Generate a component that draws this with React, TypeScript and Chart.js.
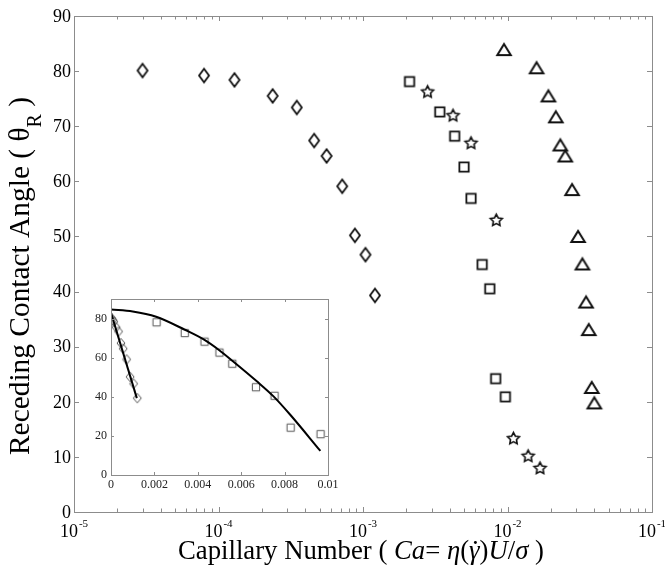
import React, { useEffect, useRef } from 'react';
import { Chart, registerables } from 'chart.js';

Chart.register(...registerables);

const FONT = '"Liberation Serif", "Times New Roman", serif';

// ---- main chart data (Ca, receding angle) ----
const diamondCa = [2.98e-5, 7.94e-5, 1.29e-4, 2.37e-4, 3.48e-4, 4.59e-4, 5.6e-4, 7.18e-4, 8.79e-4, 1.04e-3, 1.21e-3];
const diamondTheta = [80.1, 79.2, 78.4, 75.5, 73.4, 67.4, 64.6, 59.1, 50.2, 46.7, 39.3];
const squareCa = [2.1e-3, 3.4e-3, 4.31e-3, 5.0e-3, 5.59e-3, 6.68e-3, 7.54e-3, 8.28e-3, 9.66e-3];
const squareTheta = [78.1, 72.6, 68.2, 62.6, 56.9, 44.9, 40.5, 24.2, 20.9];
const starCa = [2.8e-3, 4.2e-3, 5.59e-3, 8.36e-3, 1.1e-2, 1.39e-2, 1.68e-2];
const starTheta = [76.3, 72.0, 67.0, 53.0, 13.4, 10.2, 8.0];
const triangleCa = [9.46e-3, 1.59e-2, 1.92e-2, 2.16e-2, 2.32e-2, 2.51e-2, 2.8e-2, 3.08e-2, 3.3e-2, 3.5e-2, 3.65e-2, 3.83e-2, 3.99e-2];
const triangleTheta = [83.9, 80.6, 75.5, 71.7, 66.6, 64.6, 58.5, 50.0, 45.0, 38.1, 33.1, 22.6, 19.8];

// ---- inset fit curves (linear axes) ----
const diamondFitCa = [0, 0.00119];
const diamondFitTheta = [82.9, 39.3];
const squareFitCa = [0, 0.001, 0.00208, 0.00338, 0.00429, 0.00499, 0.00557, 0.00672, 0.00749, 0.00826, 0.00965];
const squareFitTheta = [84.6, 83.6, 80.9, 74.4, 69.2, 63.8, 58.6, 47.9, 40.2, 30.8, 12.3];

// ---- ticks ----
const mainYTicks = [0, 10, 20, 30, 40, 50, 60, 70, 80, 90];
const mainXDecades = [-5, -4, -3, -2, -1];
const insetXTicks = [0, 0.002, 0.004, 0.006, 0.008, 0.01];
const insetXTickLabels = ['0', '0.002', '0.004', '0.006', '0.008', '0.01'];
const insetYTicks = [0, 20, 40, 60, 80];

const pts = (xs: number[], ys: number[]) => xs.map((x, i) => ({ x, y: ys[i] }));

function marker(shape: string, w: number, h: number, lw: number, color: string) {
  const c = document.createElement('canvas');
  const pad = Math.ceil(lw) + 2;
  c.width = Math.ceil(w) + pad * 2;
  c.height = Math.ceil(h) + pad * 2;
  const g = c.getContext('2d')!;
  g.strokeStyle = color;
  g.lineWidth = lw;
  g.lineJoin = 'miter';
  const cx = c.width / 2;
  const cy = c.height / 2;
  g.beginPath();
  if (shape === 'diamond') {
    g.moveTo(cx, cy - h / 2);
    g.lineTo(cx + w / 2, cy);
    g.lineTo(cx, cy + h / 2);
    g.lineTo(cx - w / 2, cy);
    g.closePath();
  } else if (shape === 'square') {
    g.rect(cx - w / 2, cy - h / 2, w, h);
  } else if (shape === 'triangle') {
    g.moveTo(cx, cy - h / 2);
    g.lineTo(cx + w / 2, cy + h / 2);
    g.lineTo(cx - w / 2, cy + h / 2);
    g.closePath();
  } else if (shape === 'star') {
    const R = w / 2;
    const r = R * 0.5;
    for (let i = 0; i < 10; i++) {
      const a = -Math.PI / 2 + (i * Math.PI) / 5;
      const rr = i % 2 === 0 ? R : r;
      const px = cx + rr * Math.cos(a);
      const py = cy + 0.5 + rr * Math.sin(a);
      if (i === 0) g.moveTo(px, py);
      else g.lineTo(px, py);
    }
    g.closePath();
  }
  g.stroke();
  return c;
}

// draws text segments centred on the origin, scaled uniformly to a target length
function drawSegments(
  ctx: CanvasRenderingContext2D,
  segs: { t: string; it?: boolean; size: number; dy?: number; dot?: boolean }[],
  target: number
) {
  let total = 0;
  const widths: number[] = [];
  for (const s of segs) {
    ctx.font = `${s.it ? 'italic ' : ''}${s.size}px ${FONT}`;
    const w = ctx.measureText(s.t).width;
    widths.push(w);
    total += w;
  }
  const sc = target / total;
  ctx.scale(sc, sc);
  let x = -total / 2;
  segs.forEach((s, i) => {
    ctx.font = `${s.it ? 'italic ' : ''}${s.size}px ${FONT}`;
    ctx.fillText(s.t, x, s.dy || 0);
    if (s.dot) {
      ctx.beginPath();
      ctx.arc(x + widths[i] * 0.6, -s.size * 0.62, 1.2, 0, Math.PI * 2);
      ctx.fill();
    }
    x += widths[i];
  });
}

const AXIS_GRAY = '#8c8c8c';

const mainDecor = {
  id: 'mainDecor',
  afterDraw(chart: any) {
    const ctx: CanvasRenderingContext2D = chart.ctx;
    const { left, right, top, bottom } = chart.chartArea;
    const xs = chart.scales.x;
    const ys = chart.scales.y;
    ctx.save();
    ctx.strokeStyle = AXIS_GRAY;
    ctx.lineWidth = 1;
    ctx.strokeRect(Math.round(left) + 0.5, Math.round(top) + 0.5, Math.round(right - left), Math.round(bottom - top));
    ctx.beginPath();
    for (const v of mainYTicks) {
      const py = Math.round(ys.getPixelForValue(v)) + 0.5;
      ctx.moveTo(left, py); ctx.lineTo(left + 5, py);
      ctx.moveTo(right, py); ctx.lineTo(right - 5, py);
    }
    for (const d of mainXDecades) {
      const px = Math.round(xs.getPixelForValue(Math.pow(10, d))) + 0.5;
      ctx.moveTo(px, bottom); ctx.lineTo(px, bottom - 5);
      ctx.moveTo(px, top); ctx.lineTo(px, top + 5);
      if (d < -1) {
        for (let m = 2; m <= 9; m++) {
          const mx = Math.round(xs.getPixelForValue(m * Math.pow(10, d))) + 0.5;
          ctx.moveTo(mx, bottom); ctx.lineTo(mx, bottom - 3.5);
          ctx.moveTo(mx, top); ctx.lineTo(mx, top + 3.5);
        }
      }
    }
    ctx.stroke();

    ctx.fillStyle = '#000';
    ctx.font = `18px ${FONT}`;
    ctx.textAlign = 'right';
    ctx.textBaseline = 'middle';
    for (const v of mainYTicks) {
      ctx.fillText(String(v), left - 3, ys.getPixelForValue(v) + 1);
    }
    ctx.textAlign = 'left';
    ctx.textBaseline = 'alphabetic';
    for (const d of mainXDecades) {
      const px = xs.getPixelForValue(Math.pow(10, d));
      ctx.font = `18px ${FONT}`;
      const w1 = ctx.measureText('10').width;
      ctx.font = `11px ${FONT}`;
      const sup = String(d);
      const w2 = ctx.measureText(sup).width;
      const x0 = px - (w1 + 1 + w2) / 2;
      ctx.font = `18px ${FONT}`;
      ctx.fillText('10', x0, bottom + 25);
      ctx.font = `11px ${FONT}`;
      ctx.fillText(sup, x0 + w1 + 1, bottom + 15);
    }

    // x title
    ctx.save();
    ctx.translate((left + right) / 2 - 2, bottom + 47);
    drawSegments(ctx, [
      { t: 'Capillary Number ( ', size: 22 },
      { t: 'Ca', it: true, size: 22 },
      { t: '= ', size: 22 },
      { t: 'η', it: true, size: 22 },
      { t: '(', size: 22 },
      { t: 'γ', it: true, size: 22, dot: true },
      { t: ')', size: 22 },
      { t: 'U', it: true, size: 22 },
      { t: '/', size: 22 },
      { t: 'σ', it: true, size: 22 },
      { t: ' )', size: 22 },
    ], 366);
    ctx.restore();

    // y title
    ctx.save();
    ctx.translate(29, 276);
    ctx.rotate(-Math.PI / 2);
    drawSegments(ctx, [
      { t: 'Receding Contact Angle ( ', size: 22 },
      { t: 'θ', size: 22 },
      { t: 'R', size: 15, dy: 9 },
      { t: ' )', size: 22 },
    ], 358);
    ctx.restore();
    ctx.restore();
  },
};

const insetDecor = {
  id: 'insetDecor',
  afterDraw(chart: any) {
    const ctx: CanvasRenderingContext2D = chart.ctx;
    const { left, right, top, bottom } = chart.chartArea;
    const xs = chart.scales.x;
    const ys = chart.scales.y;
    ctx.save();
    ctx.strokeStyle = AXIS_GRAY;
    ctx.lineWidth = 1;
    ctx.strokeRect(Math.round(left) + 0.5, Math.round(top) + 0.5, Math.round(right - left), Math.round(bottom - top));
    ctx.beginPath();
    for (const v of insetYTicks) {
      const py = Math.round(ys.getPixelForValue(v)) + 0.5;
      ctx.moveTo(left, py); ctx.lineTo(left + 3, py);
      ctx.moveTo(right, py); ctx.lineTo(right - 3, py);
    }
    for (const v of insetXTicks) {
      const px = Math.round(xs.getPixelForValue(v)) + 0.5;
      ctx.moveTo(px, bottom); ctx.lineTo(px, bottom - 3);
      ctx.moveTo(px, top); ctx.lineTo(px, top + 3);
    }
    ctx.stroke();
    ctx.fillStyle = '#222';
    ctx.font = `12px ${FONT}`;
    ctx.textAlign = 'right';
    ctx.textBaseline = 'middle';
    for (const v of insetYTicks) ctx.fillText(String(v), left - 4, ys.getPixelForValue(v));
    ctx.textAlign = 'center';
    ctx.textBaseline = 'top';
    insetXTicks.forEach((v, i) => ctx.fillText(insetXTickLabels[i], xs.getPixelForValue(v), bottom + 4));
    ctx.restore();
  },
};

export default function App() {
  const mainRef = useRef<HTMLCanvasElement>(null);
  const insetRef = useRef<HTMLCanvasElement>(null);

  useEffect(() => {
    document.body.style.margin = '0';
    const black = '#111';
    const mDiamond = marker('diamond', 10, 13.5, 1.8, black);
    const mSquare = marker('square', 9.3, 9.3, 1.8, black);
    const mStar = marker('star', 12.5, 12, 1.6, black);
    const mTri = marker('triangle', 13.5, 11, 2, black);
    const iDiamond = marker('diamond', 8, 9.5, 1, '#555');
    const iSquare = marker('square', 7.3, 7.3, 1, '#555');

    const base = (style: any, data: any) => ({
      data,
      pointStyle: style,
      pointRadius: 5,
      pointHoverRadius: 5,
      showLine: false,
      borderColor: black,
      backgroundColor: 'transparent',
    });

    const main = new Chart(mainRef.current!, {
      type: 'scatter',
      data: {
        datasets: [
          base(mDiamond, pts(diamondCa, diamondTheta)),
          base(mSquare, pts(squareCa, squareTheta)),
          base(mStar, pts(starCa, starTheta)),
          base(mTri, pts(triangleCa, triangleTheta)),
        ] as any,
      },
      options: {
        responsive: false,
        animation: false,
        events: [],
        layout: { padding: { left: 74, top: 16, right: 13, bottom: 56 } },
        plugins: { legend: { display: false }, tooltip: { enabled: false } },
        scales: {
          x: { type: 'logarithmic', min: 1e-5, max: 1e-1, display: false },
          y: { type: 'linear', min: 0, max: 90, display: false },
        },
      },
      plugins: [mainDecor],
    });

    const inset = new Chart(insetRef.current!, {
      type: 'scatter',
      data: {
        datasets: [
          {
            data: pts(squareFitCa, squareFitTheta),
            showLine: true,
            borderColor: '#000',
            borderWidth: 2,
            pointRadius: 0,
            cubicInterpolationMode: 'monotone',
          },
          {
            data: pts(diamondFitCa, diamondFitTheta),
            showLine: true,
            borderColor: '#000',
            borderWidth: 2,
            pointRadius: 0,
          },
          { ...base(iDiamond, pts(diamondCa, diamondTheta)), pointRadius: 4 },
          { ...base(iSquare, pts(squareCa, squareTheta)), pointRadius: 4 },
        ] as any,
      },
      options: {
        responsive: false,
        animation: false,
        events: [],
        layout: { padding: { left: 26, top: 9, right: 12, bottom: 25 } },
        plugins: { legend: { display: false }, tooltip: { enabled: false } },
        scales: {
          x: { type: 'linear', min: 0, max: 0.01, display: false },
          y: { type: 'linear', min: 0, max: 90, display: false },
        },
      },
      plugins: [insetDecor],
    });

    return () => {
      main.destroy();
      inset.destroy();
    };
  }, []);

  return (
    <div style={{ position: 'relative', width: 665, height: 568, background: '#fff' }}>
      <canvas ref={mainRef} width={665} height={568} style={{ position: 'absolute', left: 0, top: 0 }} />
      <canvas ref={insetRef} width={255} height={210} style={{ position: 'absolute', left: 85, top: 290 }} />
    </div>
  );
}
